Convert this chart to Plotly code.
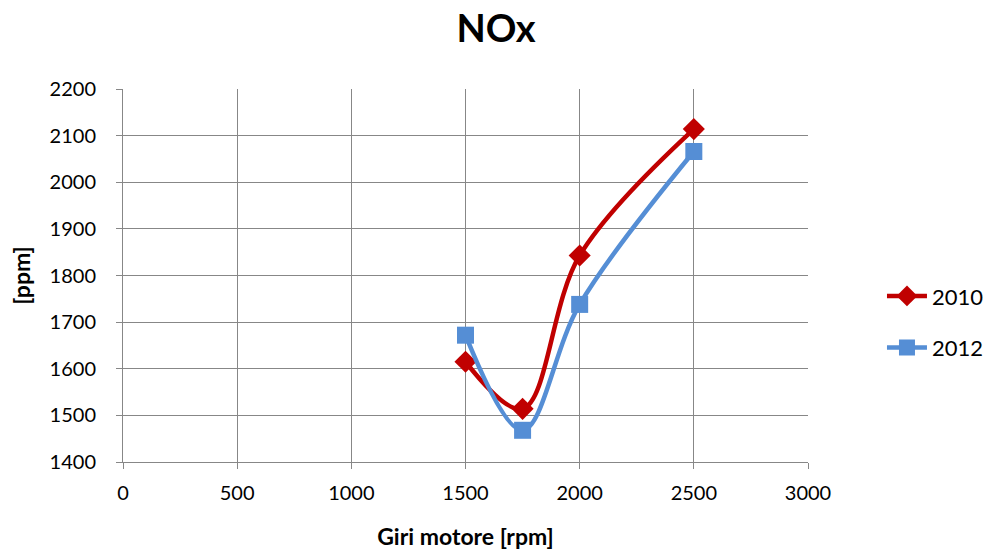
import plotly.graph_objects as go

# Engine speed (rpm) and NOx concentration (ppm)
rpm = [1500, 1750, 2000, 2500]
nox_2010 = [1615, 1514, 1843, 2114]
nox_2012 = [1672, 1468, 1738, 2066]

x_ticks = [0, 500, 1000, 1500, 2000, 2500, 3000]
y_ticks = [1400, 1500, 1600, 1700, 1800, 1900, 2000, 2100, 2200]

FONT = "Lato"
GRID = "#878787"

fig = go.Figure()
fig.add_trace(go.Scatter(
    x=rpm, y=nox_2010, name="2010", mode="lines+markers",
    line=dict(color="#C00000", width=4.5, shape="spline", smoothing=1.0),
    marker=dict(symbol="diamond", size=17, color="#C00000"),
    legendgroup="a",
))
fig.add_trace(go.Scatter(
    x=rpm, y=nox_2012, name="2012", mode="lines+markers",
    line=dict(color="#558ED5", width=4.5, shape="spline", smoothing=1.0),
    marker=dict(symbol="square", size=17, color="#558ED5"),
    legendgroup="b",
))

fig.update_layout(
    width=992, height=550,
    margin=dict(l=123, r=184, t=89, b=88, autoexpand=False),
    paper_bgcolor="white", plot_bgcolor="white",
    font=dict(family=FONT, size=20, color="black"),
    title=dict(text="<b>NOx</b>", x=0.5, xref="container", xanchor="center",
               y=0.947, yanchor="middle", font=dict(family=FONT, size=38)),
    showlegend=True,
    legend=dict(x=1.108, y=0.375, xanchor="left", yanchor="middle",
                font=dict(family=FONT, size=22), tracegroupgap=20,
                traceorder="grouped", itemwidth=40, bgcolor="rgba(0,0,0,0)"),
)
fig.update_xaxes(
    range=[0, 3000], tickvals=x_ticks, ticktext=[str(v) for v in x_ticks],
    showgrid=True, gridcolor=GRID, gridwidth=1,
    showline=True, linecolor=GRID, linewidth=1, mirror=False,
    ticks="outside", ticklen=6, tickcolor=GRID, zeroline=False,
    ticklabelstandoff=7,
    tickfont=dict(family=FONT, size=20),
    title=dict(text="<b>Giri motore [rpm]</b>", font=dict(family=FONT, size=23), standoff=26),
)
fig.update_yaxes(
    range=[1400, 2200], tickvals=y_ticks, ticktext=[str(v) for v in y_ticks],
    showgrid=True, gridcolor=GRID, gridwidth=1,
    showline=True, linecolor=GRID, linewidth=1,
    ticks="outside", ticklen=6, tickcolor=GRID, zeroline=False,
    ticklabelstandoff=16,
    tickfont=dict(family=FONT, size=20),
    title=dict(text="<b>[ppm]</b>", font=dict(family=FONT, size=23), standoff=12),
)

fig.write_html("out.html")
